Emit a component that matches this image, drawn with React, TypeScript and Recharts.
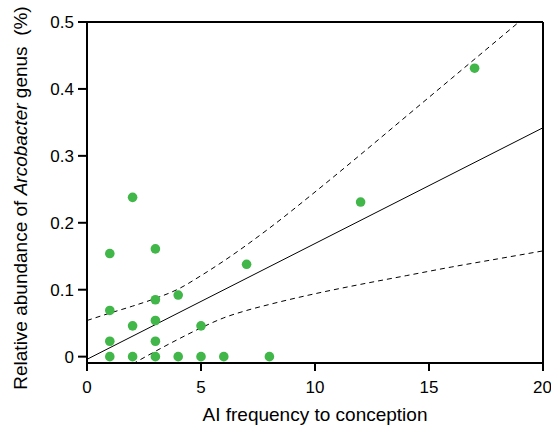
import { ComposedChart, Scatter, Line, XAxis, YAxis, ReferenceLine, Label } from 'recharts';

// AI frequency (x) vs relative abundance of Arcobacter (y), one entry per animal
const aiFrequency = [1, 1, 1, 1, 2, 2, 2, 3, 3, 3, 3, 3, 4, 4, 5, 5, 6, 7, 8, 12, 17];
const abundance = [0, 0.023, 0.069, 0.154, 0, 0.046, 0.238, 0, 0.023, 0.054, 0.085, 0.161, 0, 0.092, 0, 0.046, 0, 0.138, 0, 0.231, 0.431];

// fitted line, read at both ends of the x range
const fitX = [0, 20];
const fitY = [-0.004, 0.342];

// 95% band
const upperX = [0, 1, 2, 3, 4, 5, 6, 8, 10, 12, 14, 16, 18, 20];
const upperY = [0.054, 0.065, 0.0755, 0.087, 0.101, 0.121, 0.143, 0.192, 0.246, 0.302, 0.359, 0.416, 0.473, 0.53];
const lowerX = [2, 3, 4, 5, 6, 7, 8, 10, 12, 14, 16, 18, 20];
const lowerY = [-0.011, 0.008, 0.026, 0.043, 0.058, 0.069, 0.078, 0.094, 0.108, 0.121, 0.134, 0.146, 0.158];

const xTicks = [0, 5, 10, 15, 20];
const yTicks = [0, 0.1, 0.2, 0.3, 0.4, 0.5];

const zip = (xs: number[], ys: number[]) => xs.map((x, i) => ({ x, y: ys[i] }));

const points = zip(aiFrequency, abundance);
const fit = zip(fitX, fitY);
const upper = zip(upperX, upperY);
const lower = zip(lowerX, lowerY);

const font = 'Liberation Sans, Arial, Helvetica, sans-serif';
const axisStroke = { stroke: '#000', strokeWidth: 2 };

function YTitle() {
  const cx = 27;
  const cy = 198;
  return (
    <text
      x={cx}
      y={cy}
      transform={`rotate(-90, ${cx}, ${cy})`}
      textAnchor="middle"
      fontSize={19}
      fontFamily={font}
      fill="#000"
    >
      Relative abundance of <tspan fontStyle="italic">Arcobacter</tspan> genus{'\u00a0\u00a0'}(%)
    </text>
  );
}

function XTitle() {
  return (
    <text x={315} y={421} textAnchor="middle" fontSize={19} fontFamily={font} fill="#000">
      AI frequency to conception
    </text>
  );
}

export default function App() {
  return (
    <div style={{ position: 'absolute', left: 0, top: 0 }}>
      <ComposedChart width={551} height={425} margin={{ top: 22, right: 8, left: 0, bottom: 0 }}>
        <XAxis
          type="number"
          dataKey="x"
          domain={[0, 20]}
          ticks={xTicks}
          allowDataOverflow
          height={62}
          tickSize={8}
          tickMargin={10}
          axisLine={axisStroke}
          tickLine={axisStroke}
          tick={{ fill: '#000', fontSize: 17, fontFamily: font }}
        >
          <Label content={<XTitle />} />
        </XAxis>
        <YAxis
          type="number"
          dataKey="y"
          domain={[-0.0095, 0.5]}
          ticks={yTicks}
          allowDataOverflow
          width={87}
          tickSize={9}
          tickMargin={4}
          axisLine={axisStroke}
          tickLine={axisStroke}
          tickFormatter={(v: number) => (v === 0 ? '0' : v.toFixed(1))}
          tick={{ fill: '#000', fontSize: 17, fontFamily: font }}
        >
          <Label content={<YTitle />} />
        </YAxis>
        <ReferenceLine y={0.5} stroke="#000" strokeWidth={2} />
        <ReferenceLine x={20} stroke="#000" strokeWidth={2} />
        <Line data={upper} dataKey="y" type="monotone" stroke="#000" strokeWidth={1} strokeDasharray="5 4" dot={false} isAnimationActive={false} />
        <Line data={lower} dataKey="y" type="monotone" stroke="#000" strokeWidth={1} strokeDasharray="5 4" dot={false} isAnimationActive={false} />
        <Line data={fit} dataKey="y" type="linear" stroke="#000" strokeWidth={1} dot={false} isAnimationActive={false} />
        <Scatter
          data={points}
          dataKey="y"
          fill="#41b649"
          shape={(p: any) => <circle cx={p.cx} cy={p.cy} r={4.8} fill="#41b649" />}
          isAnimationActive={false}
        />
      </ComposedChart>
    </div>
  );
}
